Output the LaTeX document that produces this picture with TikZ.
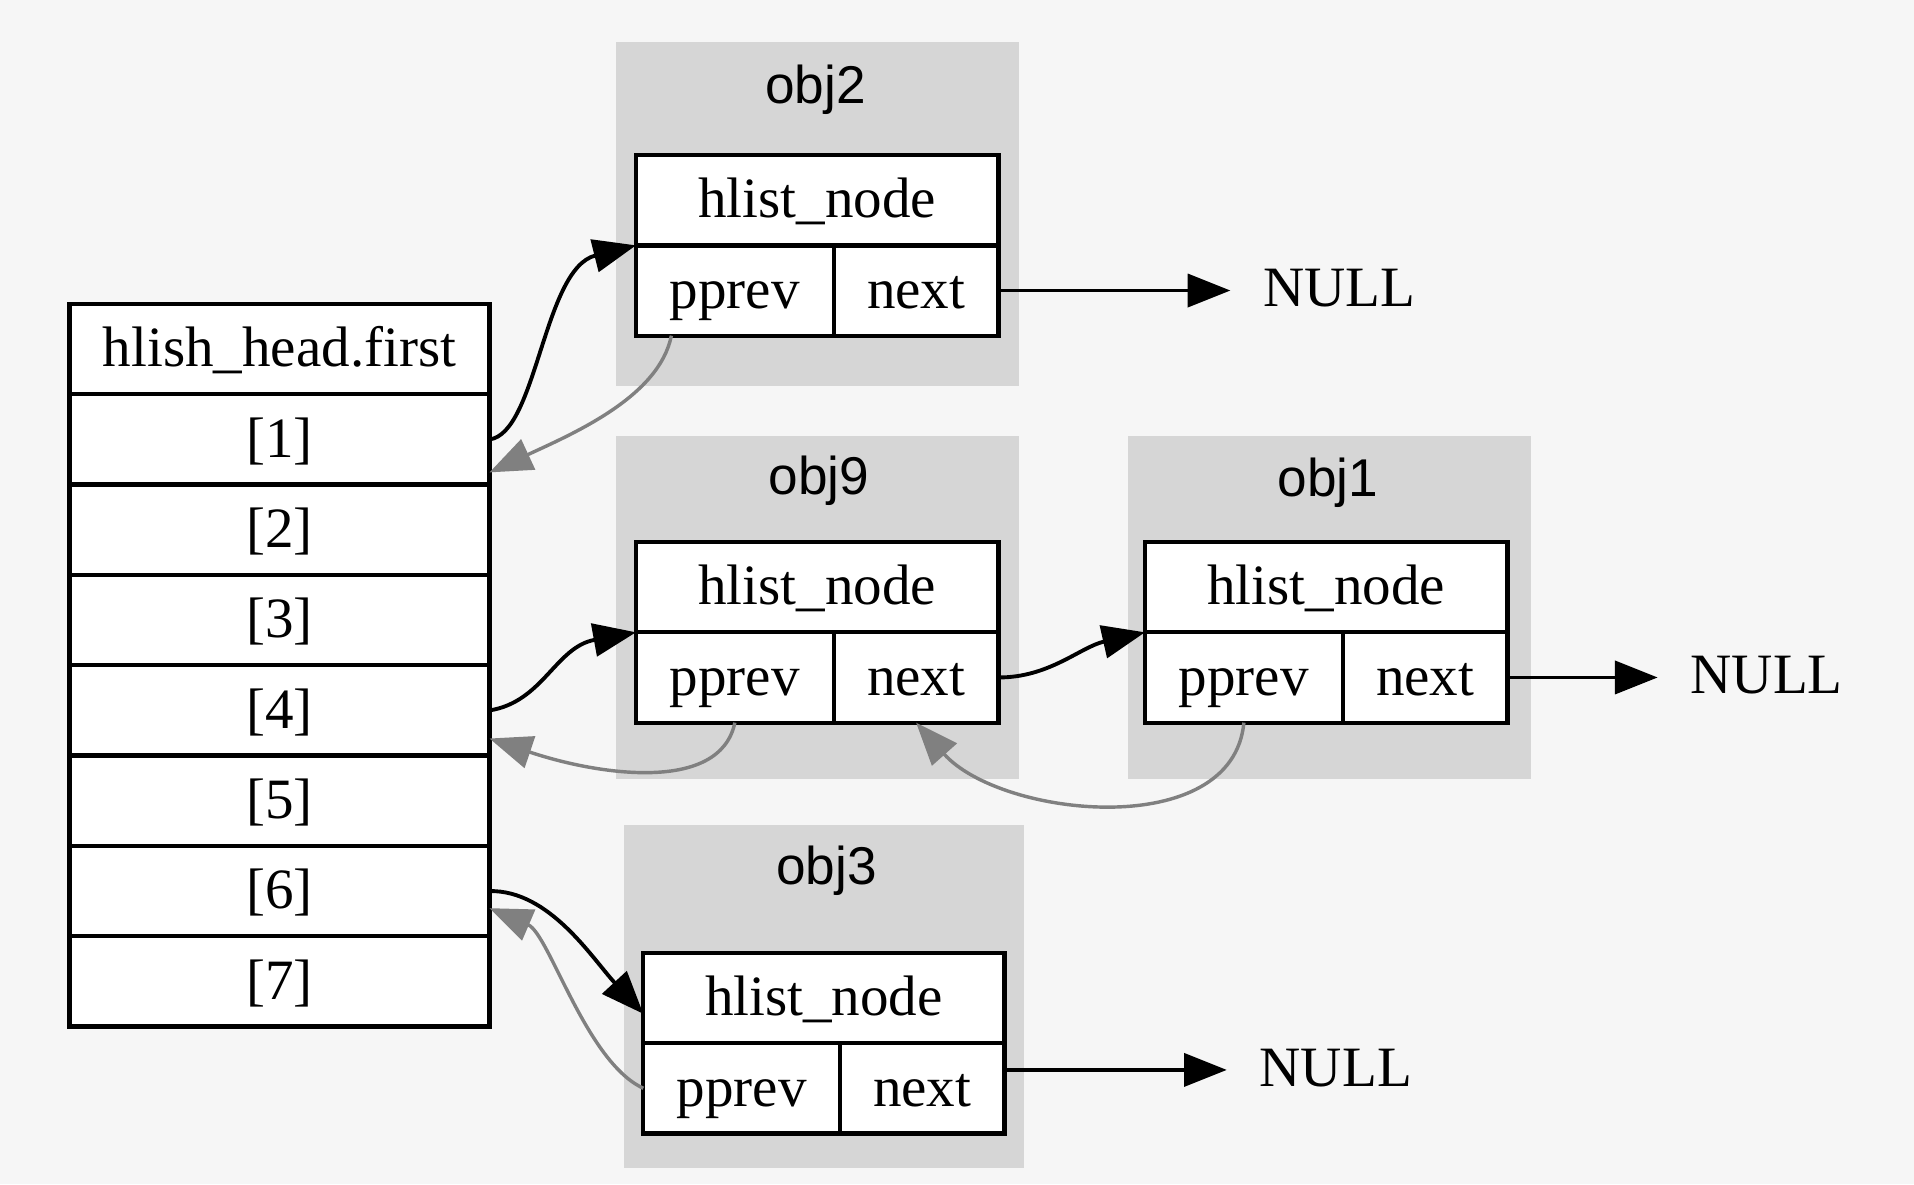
\documentclass[tikz,border=0pt]{standalone}
\usepackage{fontspec}
\setmainfont{Liberation Serif}
\setsansfont{Liberation Sans}
\usepackage{xcolor}
\usepackage{tikz}
\usetikzlibrary{arrows.meta,positioning}

\definecolor{bgcol}{HTML}{F6F6F6}
\definecolor{clustercol}{HTML}{D6D6D6}
\definecolor{backcol}{HTML}{808080}

\tikzset{
  cell/.style={draw, line width=1pt, fill=white, inner sep=0pt, outer sep=0pt,
    minimum height=0.74cm, font=\fontsize{13.3}{16}\selectfont,
    text height=0.83em, text depth=0pt},
  title/.style={font=\sffamily\fontsize{12.4}{15}\selectfont, inner sep=0pt, anchor=base},
  nulltext/.style={font=\fontsize{13.3}{16}\selectfont, inner ysep=0pt, inner xsep=0.27cm,
    outer sep=0pt, text height=0.75em, text depth=0pt},
  fwd/.style={line width=0.9pt, -{Triangle[length=0.35cm,width=0.27cm]}},
  back/.style={line width=0.8pt, backcol, -{Triangle[length=0.35cm,width=0.27cm]}}
}

\begin{document}
\begin{tikzpicture}
             \fill[bgcol] (0,0) rectangle (15.68,-9.70);
             \useasboundingbox (0,0) rectangle (15.68,-9.70);

             \fill[clustercol] (5.05,-0.34) rectangle (8.35,-3.16);
             \fill[clustercol] (5.05,-3.57) rectangle (8.35,-6.38);
             \fill[clustercol] (9.24,-3.57) rectangle (12.54,-6.38);
             \fill[clustercol] (5.11,-6.76) rectangle (8.39,-9.57);

             \node[title] (t2) at (6.68,-0.85) {obj2};
             \node[title] (t9) at (6.71,-4.05) {obj9};
             \node[title] (t1) at (10.88,-4.07) {obj1};
             \node[title] (t3) at (6.77,-7.25) {obj3};

             \node[cell, minimum width=3.44cm] (r0) at (2.29,-2.86) {hlish\_head.first};
             \node[cell, minimum width=3.44cm] (r1) at (2.29,-3.60) {[1]};
             \node[cell, minimum width=3.44cm] (r2) at (2.29,-4.34) {[2]};
             \node[cell, minimum width=3.44cm] (r3) at (2.29,-5.08) {[3]};
             \node[cell, minimum width=3.44cm] (r4) at (2.29,-5.82) {[4]};
             \node[cell, minimum width=3.44cm] (r5) at (2.29,-6.56) {[5]};
             \node[cell, minimum width=3.44cm] (r6) at (2.29,-7.30) {[6]};
             \node[cell, minimum width=3.44cm] (r7) at (2.29,-8.04) {[7]};

             \node[cell, minimum width=2.97cm] (head2) at (6.695,-1.64) {hlist\_node};
             \node[cell, minimum width=1.62cm, anchor=north west] (pprev2) at (head2.south west) {pprev};
             \node[cell, minimum width=1.35cm, anchor=north east] (next2) at (head2.south east) {next};

             \node[cell, minimum width=2.97cm] (head9) at (6.695,-4.81) {hlist\_node};
             \node[cell, minimum width=1.62cm, anchor=north west] (pprev9) at (head9.south west) {pprev};
             \node[cell, minimum width=1.35cm, anchor=north east] (next9) at (head9.south east) {next};

             \node[cell, minimum width=2.97cm] (head1) at (10.865,-4.81) {hlist\_node};
             \node[cell, minimum width=1.62cm, anchor=north west] (pprev1) at (head1.south west) {pprev};
             \node[cell, minimum width=1.35cm, anchor=north east] (next1) at (head1.south east) {next};

             \node[cell, minimum width=2.96cm] (head3) at (6.75,-8.175) {hlist\_node};
             \node[cell, minimum width=1.61cm, anchor=north west] (pprev3) at (head3.south west) {pprev};
             \node[cell, minimum width=1.35cm, anchor=north east] (next3) at (head3.south east) {next};

             \node[nulltext, right=1.90cm of next2] (null2) {NULL};
             \node[nulltext, right=1.23cm of next1] (null1) {NULL};
             \node[nulltext, right=1.82cm of next3, yshift=0.15cm] (null3) {NULL};

             \draw[fwd] (next2.east) -- (null2.west);
             \draw[fwd] (next1.east) -- (null1.west);
             \draw[fwd] ([yshift=0.15cm]next3.east) -- (null3.west);

             \draw[fwd] (r1.east) .. controls (4.40,-3.55) and (4.45,-2.20) .. (head2.south west);
             \draw[back] ([xshift=-0.52cm]pprev2.south) .. controls (5.40,-3.25) and (4.70,-3.55) .. ([yshift=0.1cm]r1.south east);

             \draw[fwd] (r4.east) .. controls (4.45,-5.75) and (4.55,-5.30) .. (head9.south west);
             \draw[back] (pprev9.south) .. controls (5.90,-6.50) and (4.90,-6.35) .. ([yshift=0.14cm]r4.south east);

             \draw[fwd] (next9.east) .. controls (8.60,-5.55) and (8.85,-5.30) .. (head1.south west);
             \draw[back] (pprev1.south) .. controls (10.10,-6.90) and (8.20,-6.70) .. (next9.south);

             \draw[fwd] (r6.east) .. controls (4.50,-7.29) and (4.85,-7.85) .. ([yshift=-0.13cm]head3.west);
             \draw[back] (pprev3.west) .. controls (4.80,-8.70) and (4.50,-7.65) .. ([yshift=-0.14cm]r6.east);
             \end{tikzpicture}
\end{document}
